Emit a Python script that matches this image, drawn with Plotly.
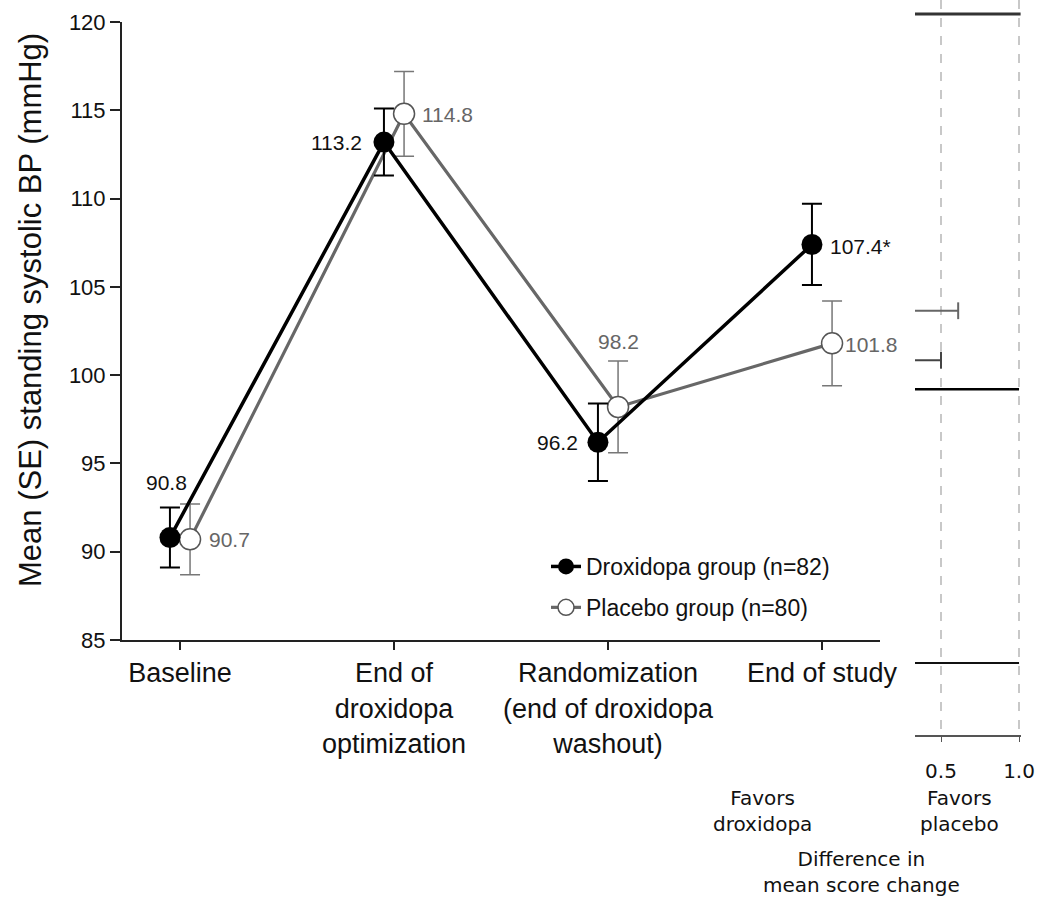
import plotly.graph_objects as go

# ---------------- data ----------------
categories = ["Baseline", "End of<br>droxidopa<br>optimization",
              "Randomization<br>(end of droxidopa<br>washout)", "End of study"]
drox_mean = [90.8, 113.2, 96.2, 107.4]
drox_se = [1.7, 1.9, 2.2, 2.3]
drox_labels = ["90.8", "113.2", "96.2", "107.4*"]
plac_mean = [90.7, 114.8, 98.2, 101.8]
plac_se = [2.0, 2.4, 2.6, 2.4]
plac_labels = ["90.7", "114.8", "98.2", "101.8"]

# right-hand forest panel (difference in mean score change)
forest_ref_rows = [120.45, 99.2, 83.7]       # full-width reference rows
forest_ref_lo = [0.0, 0.0, 0.0]
forest_ref_hi = [1.02, 1.0, 1.0]
forest_ci_rows = [103.65, 100.85]
forest_ci_lo = [0.0, 0.0]
forest_ci_hi = [0.61, 0.50]
forest_ticks = [0.5, 1.0]
forest_ticktext = ["0.5", "1.0"]

# ---------------- style ----------------
FONT = "Liberation Sans, Arial, sans-serif"
FONT2 = "DejaVu Sans, Verdana, sans-serif"
W, H = 1038, 897
offset = 0.047  # horizontal dodge between groups
drox_x = [i - offset for i in range(len(categories))]
plac_x = [i + offset for i in range(len(categories))]

fig = go.Figure()

fig.add_trace(go.Scatter(
    x=plac_x, y=plac_mean, mode="lines+markers", name="Placebo group (n=80)",
    line=dict(color="#676767", width=3.2),
    marker=dict(size=21, color="white", line=dict(color="#555555", width=1.5)),
    error_y=dict(type="data", array=plac_se, color="#777777", thickness=1.5, width=10),
    legendrank=2, legendgroup="p",
))
fig.add_trace(go.Scatter(
    x=drox_x, y=drox_mean, mode="lines+markers", name="Droxidopa group (n=82)",
    line=dict(color="#000000", width=3.5),
    marker=dict(size=21, color="#000000"),
    error_y=dict(type="data", array=drox_se, color="#000000", thickness=2, width=10),
    legendrank=1, legendgroup="d",
))

# forest panel
for yv, lo, hi, col, wd in zip(forest_ref_rows, forest_ref_lo, forest_ref_hi,
                                ["#333333", "#000000", "#111111"], [3, 2.5, 2]):
    fig.add_trace(go.Scatter(x=[lo, hi], y=[yv, yv], mode="lines",
                             line=dict(color=col, width=wd), showlegend=False,
                             xaxis="x2", yaxis="y2", hoverinfo="skip"))
for yv, lo, hi, col in zip(forest_ci_rows, forest_ci_lo, forest_ci_hi, ["#666666", "#444444"]):
    fig.add_trace(go.Scatter(x=[lo, hi], y=[yv, yv], mode="lines",
                             line=dict(color=col, width=2), showlegend=False,
                             xaxis="x2", yaxis="y2", hoverinfo="skip"))
    fig.add_trace(go.Scatter(x=[hi], y=[yv], mode="markers",
                             marker=dict(symbol="line-ns", size=12, line=dict(color=col, width=2)),
                             showlegend=False, xaxis="x2", yaxis="y2", hoverinfo="skip"))

# value labels
drox_lab_style = [("center", -3, 55), ("right", -20, 0), ("right", -18, 0), ("left", 16, -2)]
plac_lab_style = [("left", 17, 0), ("left", 16, -1), ("center", 0, 65), ("left", 11, -1)]
annotations = []
for x, y, t, (anc, dx, dy) in zip(drox_x, drox_mean, drox_labels, drox_lab_style):
    annotations.append(dict(x=x, y=y, xref="x", yref="y", text=t, showarrow=False,
                            xanchor=anc, yanchor="middle", xshift=dx, yshift=dy,
                            font=dict(family=FONT, size=21, color="#111111")))
for x, y, t, (anc, dx, dy) in zip(plac_x, plac_mean, plac_labels, plac_lab_style):
    annotations.append(dict(x=x, y=y, xref="x", yref="y", text=t, showarrow=False,
                            xanchor=anc, yanchor="middle", xshift=dx, yshift=dy,
                            font=dict(family=FONT, size=21, color="#666666")))

# y-axis title
annotations.append(dict(x=30 / W, y=1 - 310 / H, xref="paper", yref="paper",
                        text="Mean (SE) standing systolic BP (mmHg)", textangle=-90,
                        showarrow=False, xanchor="center", yanchor="middle",
                        font=dict(family=FONT, size=31, color="#111111")))
# forest panel captions
cap_font = dict(family=FONT2, size=20, color="#111111")
annotations.append(dict(x=762 / W, y=1 - 811 / H, xref="paper", yref="paper",
                        text="Favors<br>droxidopa", showarrow=False,
                        xanchor="center", yanchor="middle", font=cap_font))
annotations.append(dict(x=959 / W, y=1 - 811 / H, xref="paper", yref="paper",
                        text="Favors<br>placebo", showarrow=False,
                        xanchor="center", yanchor="middle", font=cap_font))
annotations.append(dict(x=861 / W, y=1 - 872 / H, xref="paper", yref="paper",
                        text="Difference in<br>mean score change", showarrow=False,
                        xanchor="center", yanchor="middle", font=cap_font))

fig.update_layout(
    width=W, height=H, margin=dict(l=0, r=0, t=0, b=0, autoexpand=False),
    paper_bgcolor="white", plot_bgcolor="white",
    showlegend=True,
    legend=dict(x=546 / W, y=1 - 545 / H, xanchor="left", yanchor="top",
                font=dict(family=FONT, size=23, color="#111111"),
                bgcolor="rgba(0,0,0,0)", itemsizing="trace", tracegroupgap=8),
    xaxis=dict(domain=[122 / W, 880 / W], range=[-0.271, 3.271], automargin=False,
               tickvals=list(range(len(categories))), ticktext=categories,
               showline=True, linecolor="#222222", linewidth=2,
               ticks="outside", ticklen=8, tickwidth=1.5, tickcolor="#222222",
               showgrid=False, zeroline=False,
               tickfont=dict(family=FONT, size=27, color="#111111")),
    yaxis=dict(domain=[1 - 640 / H, 1 - 22 / H], range=[85, 120], automargin=False,
               tickvals=[85, 90, 95, 100, 105, 110, 115, 120],
               showline=True, linecolor="#222222", linewidth=2,
               ticks="outside", ticklen=10, tickwidth=1.5, tickcolor="#222222",
               showgrid=False, zeroline=False,
               tickfont=dict(family=FONT, size=22, color="#111111")),
    xaxis2=dict(domain=[915 / W, 1020.6 / W], range=[0.3333, 1.01], anchor="y2",
                automargin=False,
                tickvals=forest_ticks, ticktext=forest_ticktext,
                showline=True, linecolor="#555555", linewidth=2,
                ticks="outside", ticklen=5, tickcolor="#555555",
                ticklabelstandoff=12,
                showgrid=True, gridcolor="#c8c8c8", griddash="dash", gridwidth=1.5,
                zeroline=False,
                tickfont=dict(family=FONT2, size=20, color="#111111")),
    yaxis2=dict(domain=[1 - 735 / H, 1.0], range=[79.62, 121.25], anchor="x2",
                automargin=False, visible=False, showgrid=False, zeroline=False),
    annotations=annotations,
)

fig.write_html("out.html", config={"displayModeBar": False},
               post_script="document.body.style.margin='0';document.body.style.overflow='hidden';")
